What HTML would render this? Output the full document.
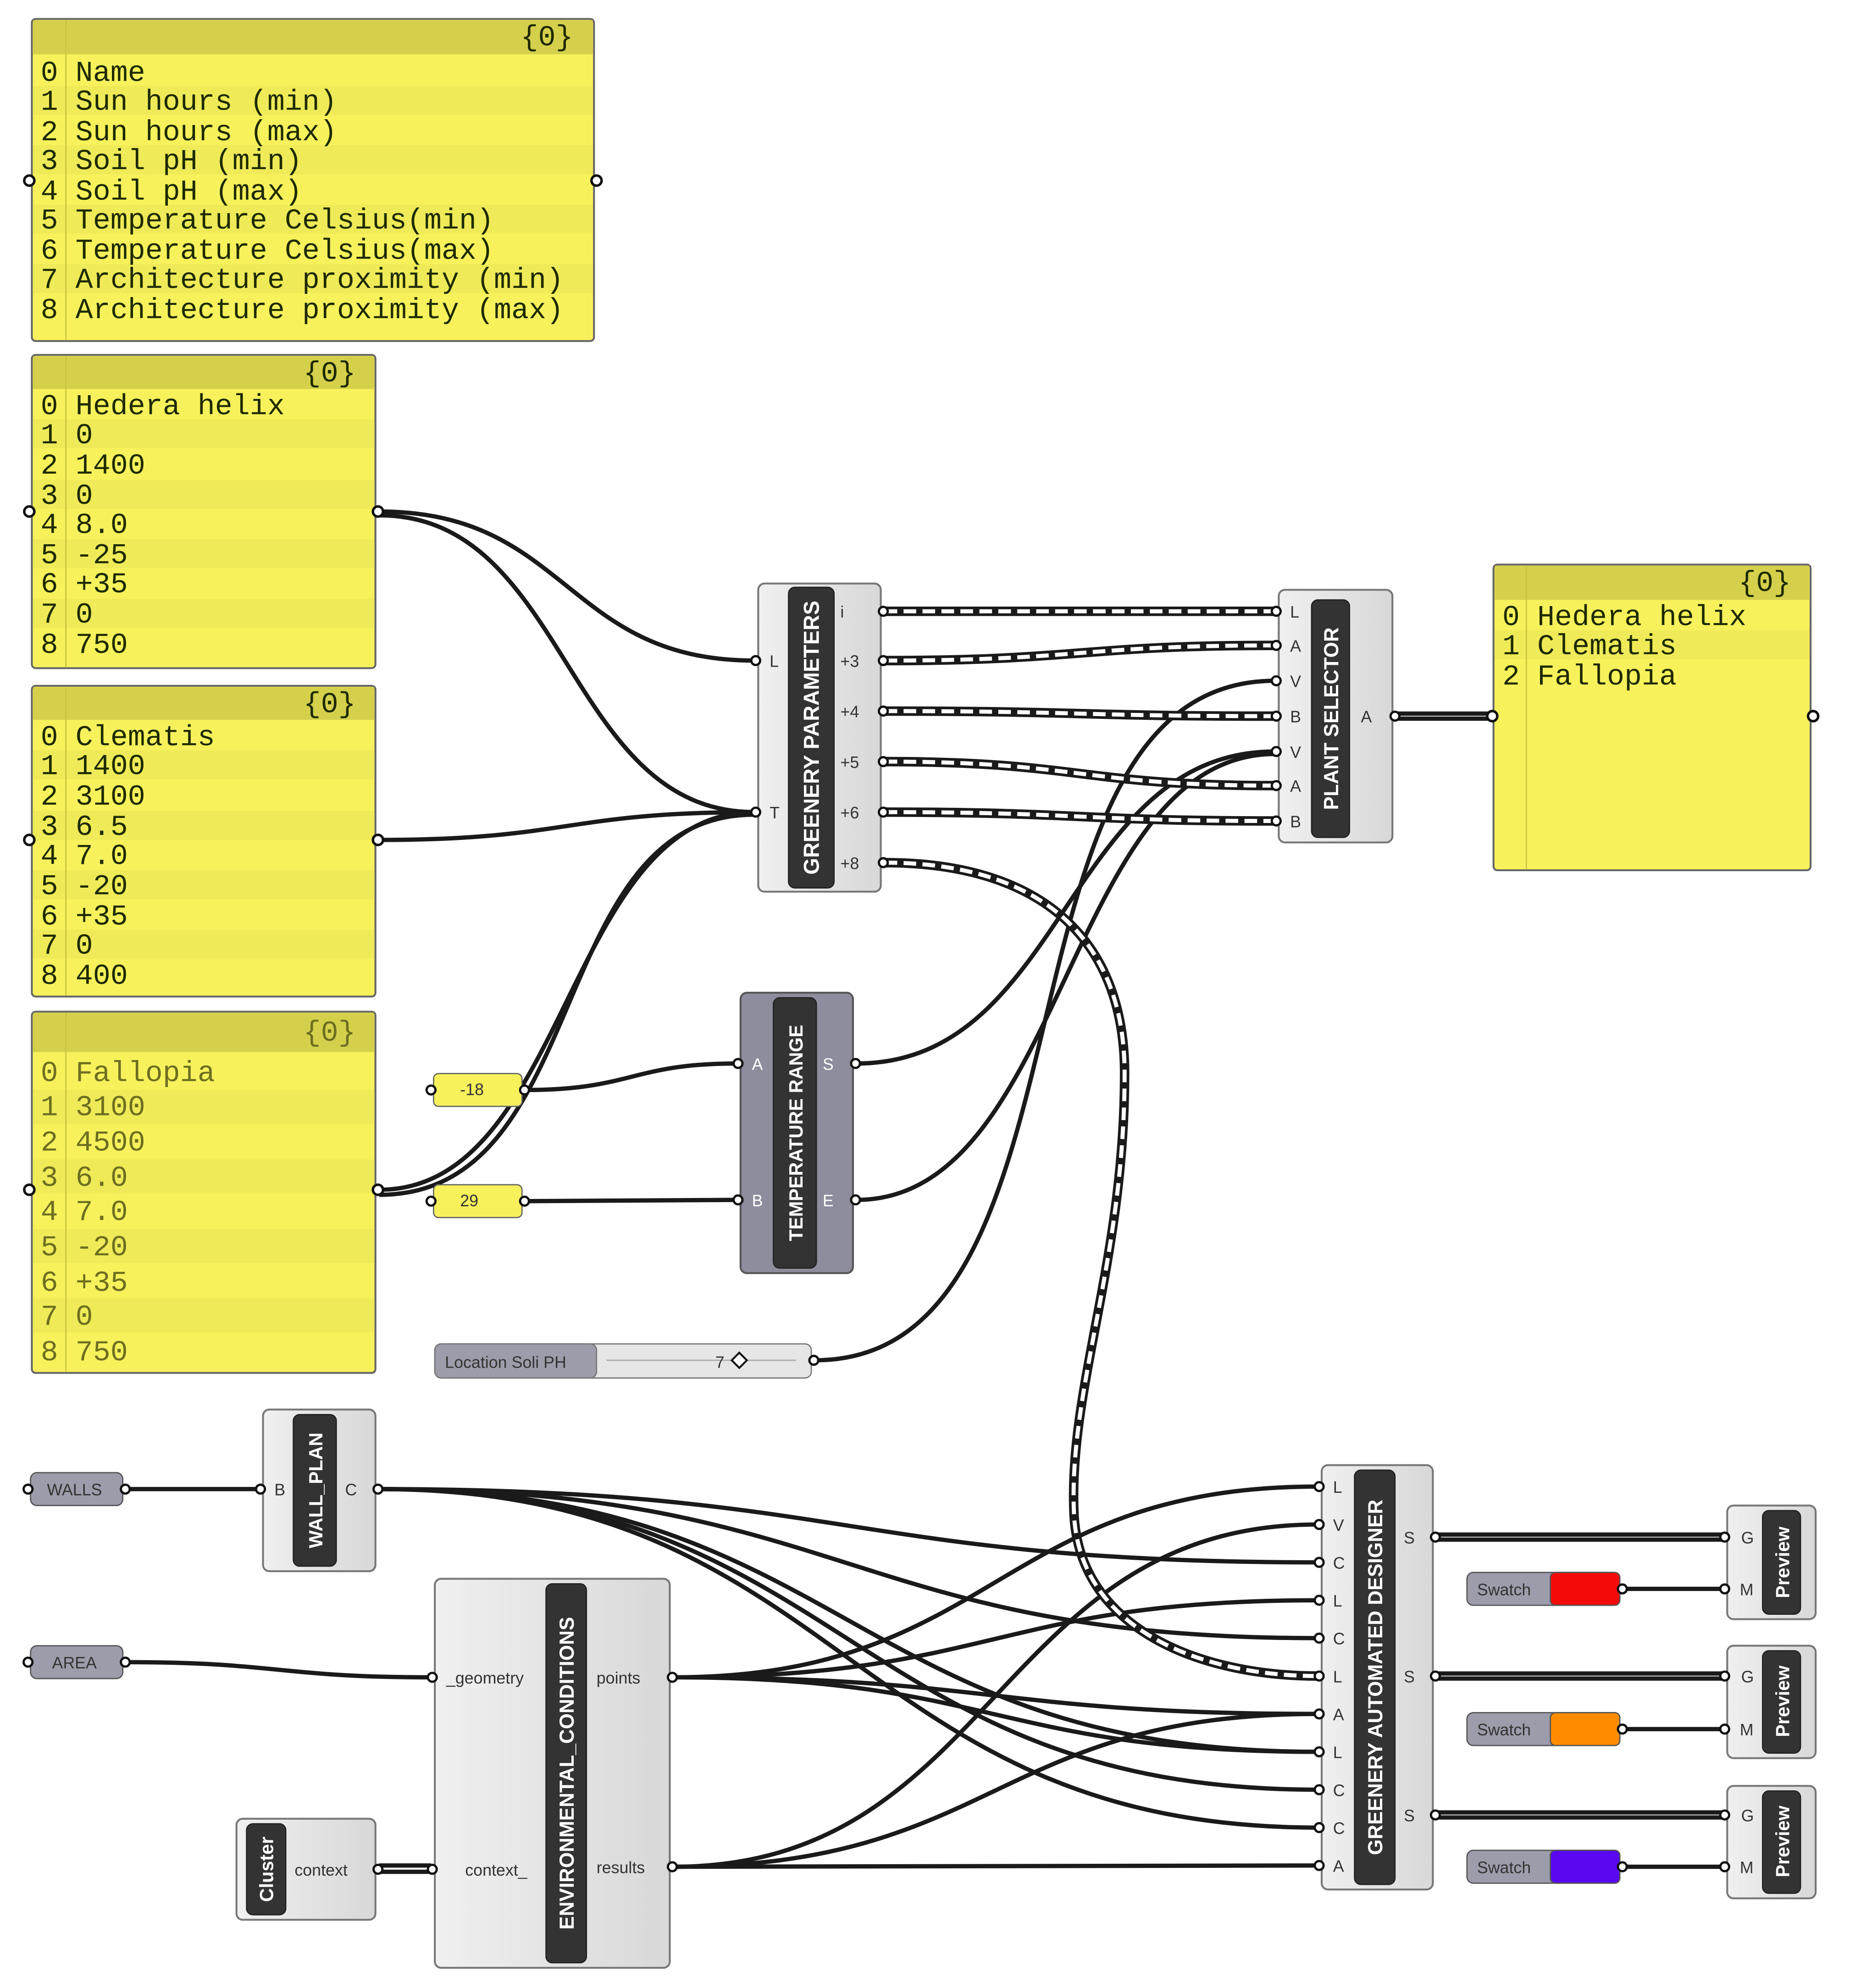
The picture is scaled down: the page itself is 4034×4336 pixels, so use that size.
<!DOCTYPE html>
<html><head><meta charset="utf-8"><style>
html,body{margin:0;padding:0;background:#fff;}
svg{display:block;}
.m{font-family:"Liberation Mono",monospace;font-size:23px;fill:#1e2a00;}
.m4{font-family:"Liberation Mono",monospace;font-size:23px;fill:#6e6e20;}
.s{font-family:"Liberation Sans",sans-serif;font-size:13px;fill:#333;}
.t{font-family:"Liberation Sans",sans-serif;font-weight:bold;fill:#fff;}
.w{fill:none;stroke:#1a1a1a;stroke-width:3.4;}
.dd{fill:none;stroke:#1a1a1a;stroke-width:7.5;}
.dw{fill:none;stroke:#fff;stroke-width:3.2;stroke-dasharray:10 5;}
.c{fill:url(#g);stroke:#777;stroke-width:1.5;}
.bar{fill:#333;stroke:#222;}
</style></head><body>
<svg width="4034" height="4336" viewBox="0 0 1464 1574" xmlns="http://www.w3.org/2000/svg">
<defs>
<linearGradient id="g" x1="0" x2="1"><stop offset="0" stop-color="#f0f0f0"/><stop offset="1" stop-color="#d8d8d8"/></linearGradient>
</defs>

<!-- wires -->
<g class="w">
<path d="M300 405 C450 405 447 523 597 523"/>
<path d="M300 408 C450 408 447 643 597 643"/>
<path d="M300 665 C450 665 447 643 597 643"/>
<path d="M300 942 C450 942 447 643 597 643"/>
<path d="M300 946 C470 946 430 645 597 645"/>
<path d="M645 1077 C880 1077 774 539 1009 539"/>
<path d="M678 842 C843 842 844 595 1009 595"/>
<path d="M678 950 C843 950 844 597 1009 597"/>
<path d="M416 863 C500 863 500 842 583 842"/>
<path d="M416 951 C500 951 500 950 583 950"/>
<path d="M1105 565 L1180 565 M1105 569 L1180 569"/>
<path d="M100 1179 L205 1179"/>
<path d="M300 1179 C670 1179 673 1237 1043 1237"/>
<path d="M300 1179 C670 1179 673 1297 1043 1297"/>
<path d="M300 1179 C670 1179 673 1387 1043 1387"/>
<path d="M300 1179 C670 1179 673 1417 1043 1417"/>
<path d="M300 1179 C670 1179 673 1447 1043 1447"/>
<path d="M100 1316 C220 1316 220 1328 341 1328"/>
<path d="M300 1477 L341 1477 M300 1482 L341 1482"/>
<path d="M533 1328 C788 1328 788 1177 1043 1177"/>
<path d="M533 1328 C788 1328 788 1267 1043 1267"/>
<path d="M533 1328 C788 1328 788 1357 1043 1357"/>
<path d="M533 1328 C788 1328 788 1387 1043 1387"/>
<path d="M533 1478 C788 1478 788 1207 1043 1207"/>
<path d="M533 1478 C788 1478 788 1357 1043 1357"/>
<path d="M533 1478 C788 1478 788 1477 1043 1477"/>
<path d="M1137 1215 L1364 1215 M1137 1219 L1364 1219"/>
<path d="M1137 1325 L1364 1325 M1137 1329 L1364 1329"/>
<path d="M1137 1435 L1364 1435 M1137 1439 L1364 1439"/>
<path d="M1285 1258 L1364 1258"/>
<path d="M1285 1369 L1364 1369"/>
<path d="M1285 1478 L1364 1478"/>
</g>
<g>
<path class="dd" d="M700 484 C850 484 860 484 1009 484"/><path class="dw" d="M700 484 C850 484 860 484 1009 484"/>
<path class="dd" d="M700 523 C855 523 855 511 1009 511"/><path class="dw" d="M700 523 C855 523 855 511 1009 511"/>
<path class="dd" d="M700 563 C855 563 855 567 1009 567"/><path class="dw" d="M700 563 C855 563 855 567 1009 567"/>
<path class="dd" d="M700 603 C855 603 855 622 1009 622"/><path class="dw" d="M700 603 C855 603 855 622 1009 622"/>
<path class="dd" d="M700 643 C855 643 855 650 1009 650"/><path class="dw" d="M700 643 C855 643 855 650 1009 650"/>
<path class="dd" d="M700 683 C820 683 890 740 890 850 C890 1000 845 1100 850 1200 C855 1290 950 1327 1043 1327"/><path class="dw" d="M700 683 C820 683 890 740 890 850 C890 1000 845 1100 850 1200 C855 1290 950 1327 1043 1327"/>
</g>

<!-- panel 1 -->
<g>
<rect x="25" y="15" width="445" height="255" rx="3" fill="#f7f25c" stroke="#666" stroke-width="1.5"/>
<rect x="26" y="16" width="443" height="27" fill="#d5d04c"/>
<g fill="#efea58"><rect x="26" y="68" width="443" height="23"/><rect x="26" y="115" width="443" height="23"/><rect x="26" y="162" width="443" height="23"/><rect x="26" y="209" width="443" height="23"/></g>
<line x1="52" y1="16" x2="52" y2="269" stroke="#c9c440"/>
<text class="m" x="412" y="36">{0}</text>
<text class="m" x="32" y="64">0 Name</text>
<text class="m" x="32" y="87">1 Sun hours (min)</text>
<text class="m" x="32" y="111">2 Sun hours (max)</text>
<text class="m" x="32" y="134">3 Soil pH (min)</text>
<text class="m" x="32" y="158">4 Soil pH (max)</text>
<text class="m" x="32" y="181">5 Temperature Celsius(min)</text>
<text class="m" x="32" y="205">6 Temperature Celsius(max)</text>
<text class="m" x="32" y="228">7 Architecture proximity (min)</text>
<text class="m" x="32" y="252">8 Architecture proximity (max)</text>
</g>
<!-- panel 2 -->
<g>
<rect x="25" y="281" width="272" height="248" rx="3" fill="#f7f25c" stroke="#666" stroke-width="1.5"/>
<rect x="26" y="282" width="270" height="26" fill="#d5d04c"/>
<g fill="#efea58"><rect x="26" y="332" width="270" height="23"/><rect x="26" y="380" width="270" height="23"/><rect x="26" y="427" width="270" height="23"/><rect x="26" y="474" width="270" height="23"/></g>
<line x1="52" y1="282" x2="52" y2="528" stroke="#c9c440"/>
<text class="m" x="240" y="302">{0}</text>
<text class="m" x="32" y="328">0 Hedera helix</text>
<text class="m" x="32" y="351">1 0</text>
<text class="m" x="32" y="375">2 1400</text>
<text class="m" x="32" y="399">3 0</text>
<text class="m" x="32" y="422">4 8.0</text>
<text class="m" x="32" y="446">5 -25</text>
<text class="m" x="32" y="469">6 +35</text>
<text class="m" x="32" y="493">7 0</text>
<text class="m" x="32" y="517">8 750</text>
</g>
<!-- panel 3 -->
<g>
<rect x="25" y="543" width="272" height="246" rx="3" fill="#f7f25c" stroke="#666" stroke-width="1.5"/>
<rect x="26" y="544" width="270" height="26" fill="#d5d04c"/>
<g fill="#efea58"><rect x="26" y="594" width="270" height="23"/><rect x="26" y="642" width="270" height="23"/><rect x="26" y="689" width="270" height="23"/><rect x="26" y="736" width="270" height="23"/></g>
<line x1="52" y1="544" x2="52" y2="788" stroke="#c9c440"/>
<text class="m" x="240" y="564">{0}</text>
<text class="m" x="32" y="590">0 Clematis</text>
<text class="m" x="32" y="613">1 1400</text>
<text class="m" x="32" y="637">2 3100</text>
<text class="m" x="32" y="661">3 6.5</text>
<text class="m" x="32" y="684">4 7.0</text>
<text class="m" x="32" y="708">5 -20</text>
<text class="m" x="32" y="732">6 +35</text>
<text class="m" x="32" y="755">7 0</text>
<text class="m" x="32" y="779">8 400</text>
</g>
<!-- panel 4 -->
<g>
<rect x="25" y="801" width="272" height="286" rx="3" fill="#f7f25c" stroke="#666" stroke-width="1.5"/>
<rect x="26" y="802" width="270" height="31" fill="#d5d04c"/>
<g fill="#efea58"><rect x="26" y="863" width="270" height="27"/><rect x="26" y="918" width="270" height="27"/><rect x="26" y="973" width="270" height="27"/><rect x="26" y="1028" width="270" height="27"/></g>
<line x1="52" y1="802" x2="52" y2="1086" stroke="#c9c440"/>
<text class="m4" x="240" y="824">{0}</text>
<text class="m4" x="32" y="856">0 Fallopia</text>
<text class="m4" x="32" y="883">1 3100</text>
<text class="m4" x="32" y="911">2 4500</text>
<text class="m4" x="32" y="939">3 6.0</text>
<text class="m4" x="32" y="966">4 7.0</text>
<text class="m4" x="32" y="994">5 -20</text>
<text class="m4" x="32" y="1022">6 +35</text>
<text class="m4" x="32" y="1049">7 0</text>
<text class="m4" x="32" y="1077">8 750</text>
</g>
<!-- output panel -->
<g>
<rect x="1182" y="447" width="251" height="242" rx="3" fill="#f7f25c" stroke="#666" stroke-width="1.5"/>
<rect x="1183" y="448" width="249" height="27" fill="#d5d04c"/>
<rect x="1183" y="499" width="249" height="23" fill="#efea58"/>
<line x1="1208" y1="448" x2="1208" y2="688" stroke="#c9c440"/>
<text class="m" x="1376" y="468">{0}</text>
<text class="m" x="1189" y="495">0 Hedera helix</text>
<text class="m" x="1189" y="518">1 Clematis</text>
<text class="m" x="1189" y="542">2 Fallopia</text>
</g>
<!-- grips -->
<g fill="#fff" stroke="#111" stroke-width="2">
<circle cx="23" cy="143" r="4"/><circle cx="472" cy="143" r="4"/>
<circle cx="23" cy="405" r="4"/><circle cx="299" cy="405" r="4"/>
<circle cx="23" cy="665" r="4"/><circle cx="299" cy="665" r="4"/>
<circle cx="23" cy="942" r="4"/><circle cx="299" cy="942" r="4"/>
<circle cx="1181" cy="567" r="4"/><circle cx="1435" cy="567" r="4"/>
</g>

<!-- GREENERY PARAMETERS -->
<rect class="c" x="600" y="462" width="97" height="244" rx="5"/>
<rect class="bar" x="624" y="465" width="36" height="238" rx="5"/>
<text class="t" font-size="17" transform="translate(648 584) rotate(-90)" text-anchor="middle">GREENERY PARAMETERS</text>
<g class="s"><text x="609" y="528">L</text><text x="609" y="648">T</text>
<text x="665" y="489">i</text><text x="665" y="528">+3</text><text x="665" y="568">+4</text><text x="665" y="608">+5</text><text x="665" y="648">+6</text><text x="665" y="688">+8</text></g>
<!-- PLANT SELECTOR -->
<rect class="c" x="1012" y="467" width="90" height="200" rx="5"/>
<rect class="bar" x="1038" y="475" width="30" height="188" rx="5"/>
<text class="t" font-size="16" transform="translate(1059 569) rotate(-90)" text-anchor="middle">PLANT SELECTOR</text>
<g class="s"><text x="1021" y="489">L</text><text x="1021" y="516">A</text><text x="1021" y="544">V</text><text x="1021" y="572">B</text><text x="1021" y="600">V</text><text x="1021" y="627">A</text><text x="1021" y="655">B</text><text x="1077" y="572">A</text></g>
<!-- TEMPERATURE RANGE -->
<rect x="586" y="786" width="89" height="222" rx="5" fill="#8e8d9e" stroke="#555" stroke-width="1.5"/>
<rect class="bar" x="612" y="790" width="34" height="214" rx="5"/>
<text class="t" font-size="15" transform="translate(635 897) rotate(-90)" text-anchor="middle">TEMPERATURE RANGE</text>
<g class="s" style="fill:#fff"><text x="595" y="847">A</text><text x="595" y="955">B</text><text x="651" y="847">S</text><text x="651" y="955">E</text></g>
<!-- number boxes -->
<rect x="343" y="850" width="70" height="26" rx="4" fill="#f7f25c" stroke="#666"/>
<text class="s" x="364" y="867" font-size="11">-18</text>
<rect x="343" y="938" width="70" height="26" rx="4" fill="#f7f25c" stroke="#666"/>
<text class="s" x="364" y="955" font-size="11">29</text>
<!-- slider -->
<rect x="344" y="1064" width="298" height="27" rx="5" fill="#e6e6e6" stroke="#777"/>
<rect x="344" y="1064" width="128" height="27" rx="5" fill="#9d9cab" stroke="#777"/>
<text class="s" x="352" y="1083" font-size="14">Location Soli PH</text>
<line x1="480" y1="1077" x2="630" y2="1077" stroke="#aaa"/>
<text class="s" x="566" y="1083" font-size="13">7</text>
<path d="M585 1071 L591 1077 L585 1083 L579 1077 Z" fill="#fff" stroke="#111" stroke-width="1.5"/>
<!-- WALLS / AREA -->
<rect x="24" y="1166" width="73" height="26" rx="5" fill="#9d9cab" stroke="#555"/>
<text class="s" x="37" y="1184" font-size="13">WALLS</text>
<rect x="24" y="1303" width="73" height="26" rx="5" fill="#9d9cab" stroke="#555"/>
<text class="s" x="41" y="1321" font-size="13">AREA</text>
<!-- WALL_PLAN -->
<rect class="c" x="208" y="1116" width="89" height="128" rx="5"/>
<rect class="bar" x="232" y="1120" width="34" height="120" rx="5"/>
<text class="t" font-size="15" transform="translate(255 1180) rotate(-90)" text-anchor="middle">WALL_PLAN</text>
<g class="s"><text x="217" y="1184">B</text><text x="273" y="1184">C</text></g>
<!-- ENV CONDITIONS -->
<rect class="c" x="344" y="1250" width="186" height="308" rx="5"/>
<rect class="bar" x="432" y="1254" width="32" height="300" rx="5"/>
<text class="t" font-size="16" transform="translate(454 1404) rotate(-90)" text-anchor="middle">ENVIRONMENTAL_CONDITIONS</text>
<g class="s" font-size="14"><text x="353" y="1333">_geometry</text><text x="368" y="1485">context_</text><text x="472" y="1333">points</text><text x="472" y="1483">results</text></g>
<!-- Cluster -->
<rect class="c" x="187" y="1440" width="110" height="80" rx="5"/>
<rect class="bar" x="195" y="1444" width="31" height="72" rx="5"/>
<text class="t" font-size="15" transform="translate(216 1480) rotate(-90)" text-anchor="middle">Cluster</text>
<text class="s" x="233" y="1485" font-size="14">context</text>
<!-- GAD -->
<rect class="c" x="1046" y="1160" width="88" height="336" rx="5"/>
<rect class="bar" x="1072" y="1164" width="32" height="328" rx="5"/>
<text class="t" font-size="16" transform="translate(1094 1328) rotate(-90)" text-anchor="middle">GREENERY AUTOMATED DESIGNER</text>
<g class="s"><text x="1055" y="1182">L</text><text x="1055" y="1212">V</text><text x="1055" y="1242">C</text><text x="1055" y="1272">L</text><text x="1055" y="1302">C</text><text x="1055" y="1332">L</text><text x="1055" y="1362">A</text><text x="1055" y="1392">L</text><text x="1055" y="1422">C</text><text x="1055" y="1452">C</text><text x="1055" y="1482">A</text>
<text x="1111" y="1222">S</text><text x="1111" y="1332">S</text><text x="1111" y="1442">S</text></g>
<!-- Previews -->
<g>
<rect class="c" x="1367" y="1192" width="70" height="90" rx="5"/><rect class="bar" x="1395" y="1196" width="30" height="82" rx="5"/>
<text class="t" font-size="15" transform="translate(1416 1237) rotate(-90)" text-anchor="middle">Preview</text>
<text class="s" x="1378" y="1222">G</text><text class="s" x="1377" y="1263">M</text>
<rect class="c" x="1367" y="1303" width="70" height="89" rx="5"/><rect class="bar" x="1395" y="1307" width="30" height="81" rx="5"/>
<text class="t" font-size="15" transform="translate(1416 1347) rotate(-90)" text-anchor="middle">Preview</text>
<text class="s" x="1378" y="1332">G</text><text class="s" x="1377" y="1374">M</text>
<rect class="c" x="1367" y="1414" width="70" height="89" rx="5"/><rect class="bar" x="1395" y="1418" width="30" height="81" rx="5"/>
<text class="t" font-size="15" transform="translate(1416 1458) rotate(-90)" text-anchor="middle">Preview</text>
<text class="s" x="1378" y="1442">G</text><text class="s" x="1377" y="1483">M</text>
</g>
<!-- Swatches -->
<g>
<rect x="1161" y="1245" width="121" height="26" rx="5" fill="#9d9cab" stroke="#555"/><rect x="1227" y="1245" width="55" height="26" rx="4" fill="#f50a0a" stroke="#555"/>
<text class="s" x="1169" y="1263" font-size="14">Swatch</text>
<rect x="1161" y="1356" width="121" height="26" rx="5" fill="#9d9cab" stroke="#555"/><rect x="1227" y="1356" width="55" height="26" rx="4" fill="#ff8c00" stroke="#555"/>
<text class="s" x="1169" y="1374" font-size="14">Swatch</text>
<rect x="1161" y="1465" width="121" height="26" rx="5" fill="#9d9cab" stroke="#555"/><rect x="1227" y="1465" width="55" height="26" rx="4" fill="#5a08f0" stroke="#555"/>
<text class="s" x="1169" y="1483" font-size="14">Swatch</text>
</g>
<!-- port grips -->
<g fill="#fff" stroke="#111" stroke-width="1.8">
<circle cx="598" cy="523" r="3.5"/><circle cx="598" cy="643" r="3.5"/>
<circle cx="699" cy="484" r="3.5"/><circle cx="699" cy="523" r="3.5"/><circle cx="699" cy="563" r="3.5"/><circle cx="699" cy="603" r="3.5"/><circle cx="699" cy="643" r="3.5"/><circle cx="699" cy="683" r="3.5"/>
<circle cx="1010" cy="484" r="3.5"/><circle cx="1010" cy="511" r="3.5"/><circle cx="1010" cy="539" r="3.5"/><circle cx="1010" cy="567" r="3.5"/><circle cx="1010" cy="595" r="3.5"/><circle cx="1010" cy="622" r="3.5"/><circle cx="1010" cy="650" r="3.5"/><circle cx="1104" cy="567" r="3.5"/>
<circle cx="584" cy="842" r="3.5"/><circle cx="584" cy="950" r="3.5"/><circle cx="677" cy="842" r="3.5"/><circle cx="677" cy="950" r="3.5"/>
<circle cx="341" cy="863" r="3.5"/><circle cx="415" cy="863" r="3.5"/><circle cx="341" cy="951" r="3.5"/><circle cx="415" cy="951" r="3.5"/>
<circle cx="644" cy="1077" r="3.5"/>
<circle cx="22" cy="1179" r="3.5"/><circle cx="99" cy="1179" r="3.5"/><circle cx="22" cy="1316" r="3.5"/><circle cx="99" cy="1316" r="3.5"/>
<circle cx="206" cy="1179" r="3.5"/><circle cx="299" cy="1179" r="3.5"/>
<circle cx="342" cy="1328" r="3.5"/><circle cx="342" cy="1480" r="3.5"/><circle cx="532" cy="1328" r="3.5"/><circle cx="532" cy="1478" r="3.5"/><circle cx="299" cy="1480" r="3.5"/>
<circle cx="1044" cy="1177" r="3.5"/><circle cx="1044" cy="1207" r="3.5"/><circle cx="1044" cy="1237" r="3.5"/><circle cx="1044" cy="1267" r="3.5"/><circle cx="1044" cy="1297" r="3.5"/><circle cx="1044" cy="1327" r="3.5"/><circle cx="1044" cy="1357" r="3.5"/><circle cx="1044" cy="1387" r="3.5"/><circle cx="1044" cy="1417" r="3.5"/><circle cx="1044" cy="1447" r="3.5"/><circle cx="1044" cy="1477" r="3.5"/>
<circle cx="1136" cy="1217" r="3.5"/><circle cx="1136" cy="1327" r="3.5"/><circle cx="1136" cy="1437" r="3.5"/>
<circle cx="1365" cy="1217" r="3.5"/><circle cx="1365" cy="1258" r="3.5"/><circle cx="1365" cy="1327" r="3.5"/><circle cx="1365" cy="1369" r="3.5"/><circle cx="1365" cy="1437" r="3.5"/><circle cx="1365" cy="1478" r="3.5"/>
<circle cx="1284" cy="1258" r="3.5"/><circle cx="1284" cy="1369" r="3.5"/><circle cx="1284" cy="1478" r="3.5"/>
</g>
</svg>
</body></html>
